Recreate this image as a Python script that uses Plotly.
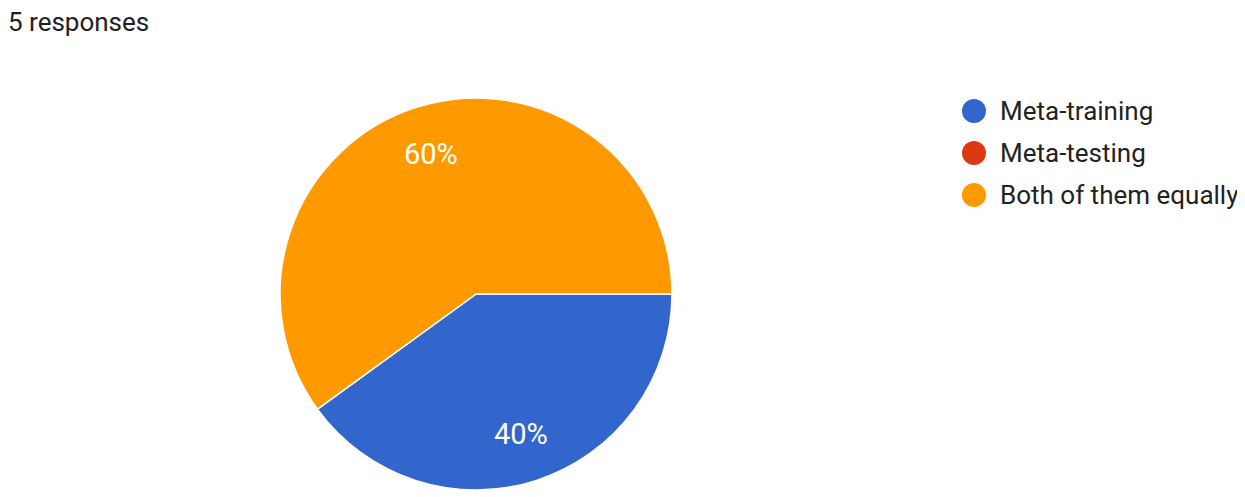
import math
import plotly.graph_objects as go

# Survey answers (5 responses)
categories = ["Meta-training", "Meta-testing", "Both of them equally"]
counts = [2, 0, 3]
colors = ["#3366cc", "#dc3912", "#ff9900"]
total = sum(counts)

# page body has an 8px margin, so the figure is a bit smaller and shifted
OFF = 8
W, H = 1245 - OFF, 497 - OFF
cx, cy, r = 476 - OFF, 294 - OFF, 196  # pie centre / radius in pixels
START = 90  # first slice starts at 3 o'clock


def px(x, y):
    return x / W, 1 - y / H


fig = go.Figure()
fig.add_trace(go.Pie(
    labels=categories,
    values=counts,
    marker=dict(colors=colors, line=dict(color="white", width=1.5)),
    sort=False,
    direction="clockwise",
    rotation=START,
    textinfo="none",
    hoverinfo="label+percent",
    showlegend=False,
    domain=dict(x=[(cx - r) / W, (cx + r) / W], y=[(H - cy - r) / H, (H - cy + r) / H]),
))

# percent labels at 3/4 of the radius, like Google Forms
cum = 0
for v in counts:
    if v > 0:
        ang = math.radians(START + 360 * (cum + v / 2) / total)
        lx, ly = px(cx + 0.75 * r * math.sin(ang), cy - 0.75 * r * math.cos(ang))
        fig.add_annotation(x=lx, y=ly, xref="paper", yref="paper",
                           xanchor="center", yanchor="middle",
                           text=f"{round(100 * v / total)}%", showarrow=False,
                           font=dict(family="Roboto, Arial", size=29, color="white"))
    cum += v

# Google-style legend with round markers
for i, (name, col) in enumerate(zip(categories, colors)):
    y = 111 - OFF + i * 42
    x0, y0 = px(962 - OFF, y + 12)
    x1, y1 = px(986 - OFF, y - 12)
    fig.add_shape(type="circle", xref="paper", yref="paper",
                  x0=x0, x1=x1, y0=y0, y1=y1, fillcolor=col, line=dict(width=0))
    tx, ty = px(998 - OFF, y)
    fig.add_annotation(x=tx, y=ty, xref="paper", yref="paper",
                       text=name, showarrow=False, xanchor="left", yanchor="middle",
                       font=dict(family="Roboto, Arial", size=26, color="#222222"))

fig.add_annotation(x=0, y=1, xref="paper", yref="paper", text=f"{total} responses",
                   showarrow=False, xanchor="left", yanchor="top", xshift=-2, yshift=3,
                   font=dict(family="Roboto, Arial", size=26, color="#202124"))

fig.update_layout(
    width=W, height=H,
    margin=dict(l=0, r=0, t=0, b=0),
    paper_bgcolor="white",
    plot_bgcolor="white",
)

fig.write_html("out.html")
